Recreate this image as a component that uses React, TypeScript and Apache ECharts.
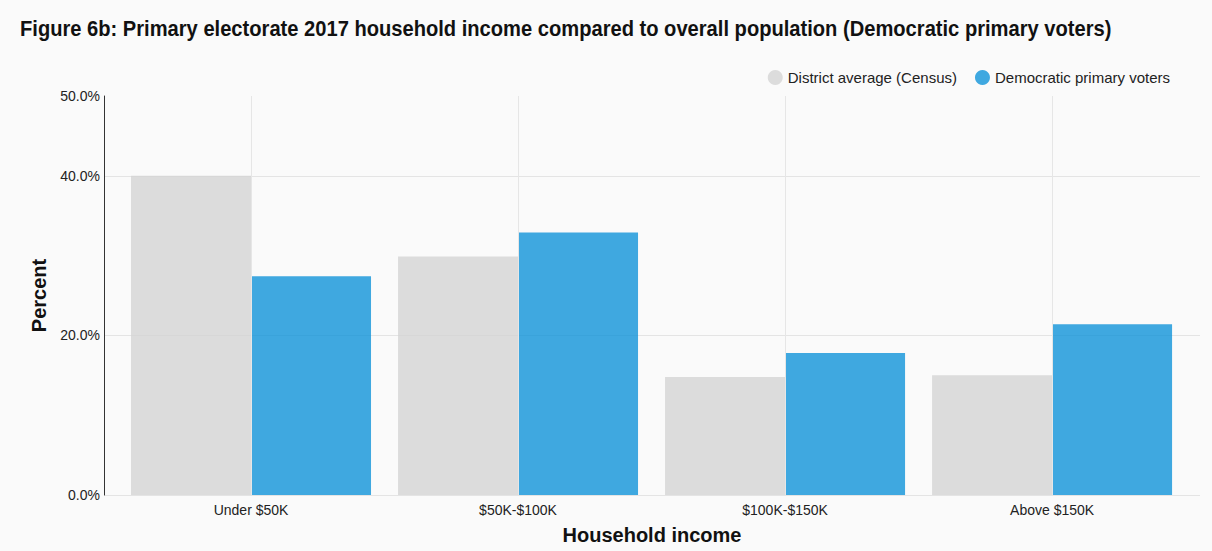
import { useEffect, useRef } from "react";
import * as echarts from "echarts";

const categories = ["Under $50K", "$50K-$100K", "$100K-$150K", "Above $150K"];
const districtAverage = [40.0, 29.9, 14.8, 15.0];
const democraticVoters = [27.4, 32.9, 17.8, 21.4];
const yTicks = [0, 20, 40, 50];

const FONT = "'Liberation Sans', Arial, sans-serif";
const TITLE =
    "Figure 6b: Primary electorate 2017 household income compared to overall population (Democratic primary voters)";

const App = () => {
    const chartRef = useRef<HTMLDivElement>(null);

    useEffect(() => {
        document.body.style.margin = "0";
        document.body.style.background = "#fafafa";
        if (!chartRef.current) return;
        const chart = echarts.init(chartRef.current, undefined, { renderer: "svg" });

        const positions = categories.map((_, i) => i);

        const options = {
            animation: false,
            backgroundColor: "#fafafa",
            textStyle: { fontFamily: FONT },
            // title squeezed horizontally to imitate the condensed face
            graphic: [
                {
                    type: "text",
                    x: 20,
                    y: 17,
                    scaleX: 0.915,
                    style: {
                        text: TITLE,
                        font: "bold 22px 'Liberation Sans', Arial, sans-serif",
                        fill: "#111",
                    },
                },
            ],
            legend: {
                right: 37,
                top: 65,
                icon: "circle",
                itemWidth: 15,
                itemHeight: 15,
                itemGap: 18,
                textStyle: { fontSize: 15, color: "#222", fontFamily: FONT },
                data: ["District average (Census)", "Democratic primary voters"],
            },
            grid: { left: 104, right: 12, top: 96, bottom: 56, outerBoundsMode: "none" },
            xAxis: {
                type: "value",
                min: -0.5506,
                max: 3.554,
                name: "Household income",
                nameLocation: "middle",
                nameGap: 30,
                nameTextStyle: { fontSize: 20, fontWeight: "bold", color: "#111", fontFamily: FONT },
                axisLine: { show: false },
                axisTick: { show: false },
                splitLine: { show: false },
                axisLabel: {
                    customValues: positions,
                    formatter: (v: number) => categories[Math.round(v)] ?? "",
                    fontSize: 14,
                    color: "#222",
                    margin: 8,
                },
            },
            yAxis: {
                type: "value",
                min: 0,
                max: 50,
                interval: 20,
                name: "Percent",
                nameLocation: "middle",
                nameGap: 35,
                nameTextStyle: { fontSize: 20, fontWeight: "bold", color: "#111", fontFamily: FONT },
                axisLine: { show: true, onZero: false, lineStyle: { color: "#333", width: 1 } },
                axisTick: { show: false },
                axisLabel: {
                    customValues: yTicks,
                    formatter: (v: number) => v.toFixed(1) + "%",
                    fontSize: 14,
                    color: "#222",
                    margin: 4,
                },
                splitLine: {
                    show: true,
                    lineStyle: { color: ["#e4e4e4", "#e4e4e4", "#e4e4e4", "transparent"], width: 1 },
                },
            },
            series: [
                {
                    name: "District average (Census)",
                    type: "bar",
                    barWidth: 120,
                    barGap: "0%",
                    data: positions.map((p, i) => [p, districtAverage[i]]),
                    itemStyle: { color: "#d3d3d3", opacity: 0.78 },
                },
                {
                    name: "Democratic primary voters",
                    type: "bar",
                    barWidth: 120,
                    barGap: "0%",
                    data: positions.map((p, i) => [p, democraticVoters[i]]),
                    itemStyle: { color: "#0a91d8", opacity: 0.78 },
                },
                {
                    // carrier for the vertical lines at category centres
                    name: "grid-lines",
                    type: "line",
                    data: [],
                    z: 1,
                    markLine: {
                        silent: true,
                        symbol: ["none", "none"],
                        label: { show: false },
                        lineStyle: { color: "#e6e6e6", type: "solid", width: 1 },
                        data: positions.map((p) => ({ xAxis: p })),
                    },
                },
            ],
        };

        chart.setOption(options);

        return () => {
            chart.dispose();
        };
    }, []);

    return <div ref={chartRef} style={{ width: "1212px", height: "551px" }} />;
};

export default App;
